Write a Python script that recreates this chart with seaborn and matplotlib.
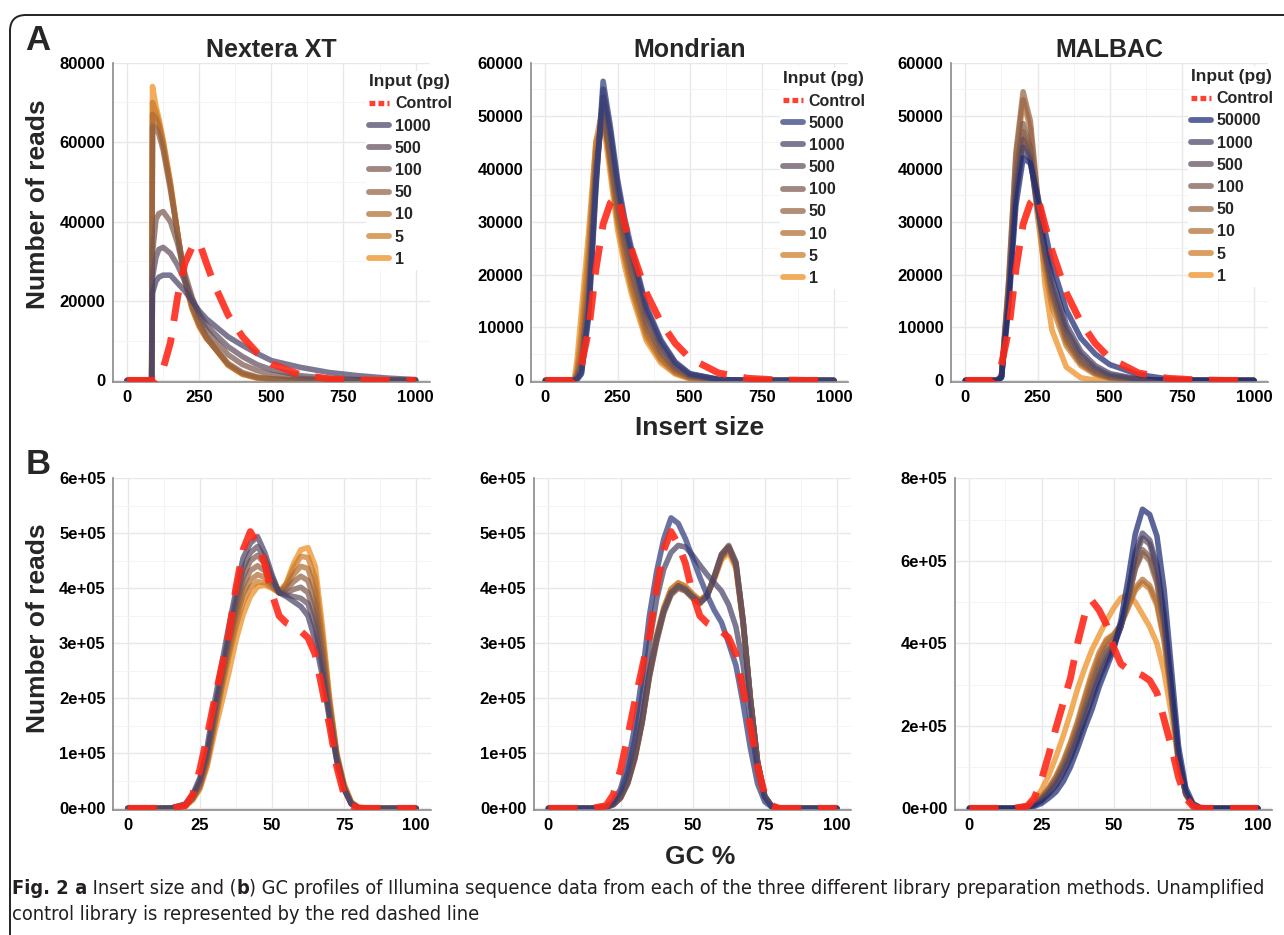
import pandas as pd
import seaborn as sns
import matplotlib.pyplot as plt
from matplotlib.lines import Line2D
from matplotlib.patches import FancyBboxPatch
from matplotlib.ticker import MultipleLocator, FuncFormatter
from matplotlib import font_manager

sns.set_style("white")
plt.rcParams["font.family"] = ["Liberation Sans", "DejaVu Sans"]
plt.rcParams["font.weight"] = "bold"

# ---------------- data: insert size (panel A) ----------------
xs_ins = [0, 85, 88, 100, 110, 125, 150, 175, 200, 225, 250, 275, 300, 350, 400, 450, 500, 600, 700, 800, 900, 1000]
ctrl_ins = [0, 0, 0, 0, 800, 3000, 9500, 21000, 29500, 33500, 34800, 29500, 24500, 16500, 11000, 7000, 4200, 1400, 400, 100, 0, 0]

labels_nx = ["1000", "500", "100", "50", "10", "5", "1"]
nx_1000 = [0, 0, 22000, 25000, 26000, 26500, 26500, 24500, 22500, 20000, 17500, 15500, 14000, 11000, 8800, 6800, 5000, 3300, 2000, 1200, 600, 200]
nx_500 = [0, 0, 26000, 31000, 33000, 33500, 32000, 29000, 25000, 20500, 16800, 14000, 12000, 8500, 6000, 4000, 2700, 1200, 500, 200, 80, 0]
nx_100 = [0, 0, 32000, 40500, 42000, 42500, 40000, 34500, 27000, 21000, 16200, 12800, 10500, 6500, 4000, 2500, 1500, 500, 150, 50, 0, 0]
nx_50 = [0, 0, 64000, 63500, 62000, 58000, 48000, 37000, 26000, 19000, 14500, 11000, 8500, 4300, 2000, 900, 400, 100, 0, 0, 0, 0]
nx_10 = [0, 0, 67000, 66000, 64000, 59000, 49000, 37000, 25500, 18500, 14000, 10800, 8500, 4000, 1700, 700, 300, 50, 0, 0, 0, 0]
nx_5 = [0, 0, 70000, 67500, 65000, 60000, 49500, 37000, 25000, 18200, 13700, 10600, 8500, 3900, 1600, 650, 250, 50, 0, 0, 0, 0]
nx_1 = [0, 0, 74000, 69000, 66000, 60500, 50000, 37000, 25000, 18000, 13500, 10500, 8500, 3800, 1500, 600, 200, 0, 0, 0, 0, 0]

labels_md = ["5000", "1000", "500", "100", "50", "10", "5", "1"]
md_5000 = [0, 0, 0, 0, 200, 1200, 12000, 36000, 56500, 48000, 38000, 30500, 24500, 14000, 7700, 3500, 1300, 200, 0, 0, 0, 0]
md_1000 = [0, 0, 0, 0, 300, 1500, 13000, 37000, 55000, 47000, 37000, 29500, 23800, 13500, 7300, 3300, 1200, 200, 0, 0, 0, 0]
md_500 = [0, 0, 0, 0, 400, 2000, 14000, 38000, 53500, 46000, 36000, 28500, 22500, 12500, 6500, 2800, 1000, 150, 0, 0, 0, 0]
md_100 = [0, 0, 0, 0, 600, 3000, 16000, 40000, 51000, 43000, 33500, 26500, 20500, 11000, 5500, 2300, 800, 100, 0, 0, 0, 0]
md_50 = [0, 0, 0, 0, 800, 4000, 18000, 41000, 50000, 42000, 32500, 25500, 19500, 10000, 5000, 2000, 700, 100, 0, 0, 0, 0]
md_10 = [0, 0, 0, 0, 1200, 6000, 21000, 43000, 50500, 41000, 31000, 24000, 18000, 9000, 4200, 1600, 500, 50, 0, 0, 0, 0]
md_5 = [0, 0, 0, 0, 2000, 9000, 25000, 45000, 52000, 40500, 30000, 23000, 17000, 8200, 3800, 1400, 400, 0, 0, 0, 0, 0]
md_1 = [0, 0, 0, 0, 4000, 13000, 28000, 45000, 49000, 39000, 28500, 21500, 16000, 7500, 3300, 1200, 300, 0, 0, 0, 0, 0]

labels_mb = ["50000", "1000", "500", "100", "50", "10", "5", "1"]
mb_50000 = [0, 0, 0, 0, 0, 500, 14000, 33000, 42000, 41000, 35000, 28500, 22000, 13300, 8000, 5000, 3000, 1100, 300, 50, 0, 0]
mb_1000 = [0, 0, 0, 0, 0, 600, 15000, 35000, 44000, 41500, 33000, 25500, 19500, 10500, 5500, 2800, 1300, 250, 0, 0, 0, 0]
mb_500 = [0, 0, 0, 0, 0, 700, 16000, 36500, 45500, 42000, 32500, 24500, 18000, 9500, 4800, 2300, 1000, 200, 0, 0, 0, 0]
mb_100 = [0, 0, 0, 0, 0, 800, 17000, 39000, 48500, 44000, 33000, 24000, 17000, 8500, 4000, 1800, 700, 100, 0, 0, 0, 0]
mb_50 = [0, 0, 0, 0, 0, 900, 19000, 43000, 54500, 49000, 35000, 24000, 16500, 7800, 3500, 1500, 600, 100, 0, 0, 0, 0]
mb_10 = [0, 0, 0, 0, 0, 900, 18500, 42000, 53000, 47500, 34000, 23000, 15500, 7200, 3200, 1300, 500, 50, 0, 0, 0, 0]
mb_5 = [0, 0, 0, 0, 0, 800, 17500, 38000, 47000, 43000, 31000, 21000, 14000, 6500, 2800, 1100, 400, 0, 0, 0, 0, 0]
mb_1 = [0, 0, 0, 0, 0, 700, 16500, 36500, 45500, 44000, 35000, 18500, 9500, 2500, 500, 50, 0, 0, 0, 0, 0, 0]

# ---------------- data: GC % (panel B) ----------------
xs_gc = [0, 10, 15, 20, 22.5, 25, 27.5, 30, 32.5, 35, 37.5, 40, 42.5, 45, 47.5, 50, 52.5, 55, 57.5, 60,
         62.5, 65, 67.5, 70, 72.5, 75, 77.5, 80, 85, 90, 100]
ctrl_gc = [0, 0, 0, 5000, 25000, 70000, 130000, 195000, 255000, 315000, 400000, 470000, 503000, 480000, 445000, 390000,
           350000, 337000, 330000, 322000, 310000, 280000, 215000, 150000, 75000, 25000, 5000, 0, 0, 0, 0]

nb_1000 = [0, 0, 500, 8000, 25000, 55000, 110000, 190000, 260000, 330000, 395000, 455000, 482000, 494000, 465000, 425000,
           392000, 385000, 376000, 367000, 350000, 305000, 240000, 160000, 85000, 35000, 8000, 1000, 0, 0, 0]
nb_500 = [0, 0, 400, 7000, 22000, 50000, 100000, 175000, 245000, 315000, 380000, 435000, 465000, 476000, 455000, 420000,
          392000, 388000, 385000, 382000, 372000, 330000, 255000, 165000, 87000, 35000, 8000, 1000, 0, 0, 0]
nb_100 = [0, 0, 300, 6000, 20000, 46000, 95000, 168000, 238000, 305000, 368000, 420000, 450000, 460000, 445000, 415000,
          392000, 392000, 398000, 402000, 392000, 350000, 270000, 172000, 90000, 36000, 8000, 1000, 0, 0, 0]
nb_50 = [0, 0, 300, 5500, 19000, 43000, 90000, 160000, 230000, 295000, 355000, 405000, 432000, 441000, 432000, 410000,
         392000, 398000, 412000, 422000, 414000, 372000, 285000, 180000, 93000, 38000, 9000, 1000, 0, 0, 0]
nb_10 = [0, 0, 200, 5000, 17000, 40000, 85000, 153000, 222000, 285000, 342000, 390000, 415000, 425000, 420000, 405000,
         392000, 404000, 425000, 440000, 436000, 395000, 300000, 188000, 96000, 40000, 10000, 1500, 0, 0, 0]
nb_5 = [0, 0, 200, 4500, 16000, 37000, 80000, 147000, 215000, 275000, 330000, 375000, 402000, 412000, 410000, 402000,
        392000, 408000, 437000, 458000, 456000, 418000, 315000, 195000, 98000, 42000, 11000, 1500, 0, 0, 0]
nb_1 = [0, 0, 0, 4000, 15000, 35000, 75000, 135000, 190000, 245000, 305000, 352000, 385000, 403000, 406000, 400000,
        392000, 410000, 445000, 470000, 474000, 440000, 330000, 200000, 100000, 45000, 12000, 2000, 0, 0, 0]

mdb_5000 = [0, 0, 0, 3000, 12000, 35000, 80000, 150000, 240000, 350000, 430000, 490000, 528000, 518000, 490000, 455000,
            420000, 388000, 360000, 338000, 300000, 260000, 190000, 110000, 45000, 12000, 2000, 0, 0, 0, 0]
mdb_1000 = [0, 0, 0, 2000, 9000, 28000, 65000, 125000, 205000, 300000, 380000, 435000, 465000, 478000, 475000, 460000,
            442000, 425000, 410000, 395000, 370000, 330000, 260000, 160000, 70000, 20000, 3000, 0, 0, 0, 0]
mdb_500 = [0, 0, 0, 2000, 7000, 20000, 48000, 95000, 160000, 245000, 310000, 360000, 392000, 405000, 398000, 385000,
           375000, 385000, 420000, 460000, 475000, 445000, 340000, 200000, 85000, 22000, 3000, 0, 0, 0, 0]
mdb_100 = [0, 0, 0, 2000, 7000, 19000, 46000, 92000, 157000, 240000, 305000, 357000, 390000, 402000, 396000, 383000,
           373000, 386000, 422000, 462000, 478000, 448000, 342000, 202000, 86000, 22000, 3000, 0, 0, 0, 0]
mdb_50 = [0, 0, 0, 2000, 6500, 18500, 45000, 90000, 155000, 238000, 302000, 355000, 388000, 400000, 395000, 382000,
          372000, 386000, 422000, 462000, 476000, 446000, 340000, 200000, 85000, 22000, 3000, 0, 0, 0, 0]
mdb_10 = [0, 0, 0, 2000, 7000, 20000, 47000, 93000, 158000, 242000, 308000, 360000, 393000, 405000, 399000, 386000,
          376000, 388000, 420000, 458000, 472000, 442000, 338000, 199000, 84000, 22000, 3000, 0, 0, 0, 0]
mdb_5 = [0, 0, 0, 2200, 7500, 21000, 49000, 96000, 162000, 247000, 313000, 364000, 398000, 410000, 403000, 389000,
         378000, 388000, 418000, 455000, 470000, 440000, 336000, 198000, 84000, 22000, 3000, 0, 0, 0, 0]
mdb_1 = [0, 0, 0, 2200, 7500, 21000, 49000, 96000, 163000, 248000, 314000, 365000, 399000, 410000, 404000, 390000,
         379000, 389000, 416000, 452000, 465000, 436000, 334000, 197000, 83000, 22000, 3000, 0, 0, 0, 0]

mbb_50000 = [0, 0, 0, 2000, 5000, 12000, 25000, 40000, 65000, 100000, 145000, 195000, 240000, 295000, 340000, 385000,
             455000, 555000, 665000, 725000, 712000, 660000, 530000, 340000, 150000, 50000, 12000, 2000, 0, 0, 0]
mbb_1000 = [0, 0, 0, 3000, 8000, 18000, 35000, 55000, 85000, 120000, 165000, 215000, 265000, 315000, 355000, 390000,
            440000, 520000, 620000, 667000, 650000, 590000, 470000, 300000, 130000, 40000, 9000, 1000, 0, 0, 0]
mbb_500 = [0, 0, 0, 3000, 9000, 20000, 38000, 60000, 90000, 128000, 175000, 225000, 275000, 325000, 365000, 395000,
           440000, 515000, 610000, 655000, 640000, 580000, 460000, 290000, 125000, 38000, 8000, 1000, 0, 0, 0]
mbb_100 = [0, 0, 0, 4000, 10000, 22000, 42000, 66000, 98000, 138000, 185000, 238000, 290000, 340000, 378000, 400000,
           440000, 505000, 585000, 627000, 610000, 555000, 445000, 285000, 120000, 36000, 8000, 1000, 0, 0, 0]
mbb_50 = [0, 0, 0, 4000, 11000, 24000, 45000, 70000, 104000, 145000, 195000, 250000, 305000, 355000, 390000, 410000,
          445000, 505000, 580000, 619000, 600000, 545000, 440000, 280000, 118000, 35000, 7000, 1000, 0, 0, 0]
mbb_10 = [0, 0, 0, 5000, 12000, 26000, 48000, 75000, 110000, 155000, 205000, 265000, 320000, 370000, 405000, 420000,
          445000, 490000, 535000, 555000, 540000, 500000, 410000, 270000, 115000, 34000, 7000, 1000, 0, 0, 0]
mbb_5 = [0, 0, 0, 5000, 13000, 28000, 50000, 78000, 115000, 160000, 212000, 272000, 330000, 378000, 410000, 422000,
         445000, 485000, 528000, 547000, 532000, 492000, 405000, 268000, 113000, 33000, 7000, 1000, 0, 0, 0]
mbb_1 = [0, 0, 0, 7000, 20000, 45000, 80000, 125000, 175000, 230000, 290000, 340000, 385000, 420000, 455000, 485000,
         510000, 518000, 500000, 470000, 440000, 400000, 330000, 230000, 110000, 35000, 8000, 1000, 0, 0, 0]

titles = ["Nextera XT", "Mondrian", "MALBAC"]

pal = {"50000": "#1d2a72", "5000": "#313d7c", "1000": "#4b4468", "500": "#634f5f", "100": "#7b5a4f",
       "50": "#946243", "10": "#b06c33", "5": "#cc7a27", "1": "#ec8c1e"}
ctrl_color = "#ff2a1a"

W, H = 1284, 935
fig = plt.figure(figsize=(W / 100, H / 100), dpi=100)


def box(left, right, top, bottom):
    return [left / W, 1 - bottom / H, (right - left) / W, (bottom - top) / H]


def draw_panel(ax, xs, ctrl, labels, series, xlim, xstep, ymax, ystep, fmt):
    long = pd.concat([pd.DataFrame({"x": xs, "reads": ys, "input": lab})
                      for lab, ys in zip(labels, series)], ignore_index=True)
    sns.lineplot(data=long, x="x", y="reads", hue="input", hue_order=labels[::-1], palette=pal,
                 estimator=None, sort=False, linewidth=4.0, alpha=0.72, legend=False, ax=ax)
    sns.lineplot(x=xs, y=ctrl, color=ctrl_color, linewidth=5.0, alpha=0.9,
                 estimator=None, sort=False, legend=False, ax=ax)
    ax.lines[-1].set_linestyle((0, (4.2, 2.4)))
    ax.lines[-1].set_zorder(4)

    ax.set_xlim(*xlim)
    ax.set_ylim(-ymax * 0.005, ymax)
    ax.xaxis.set_major_locator(MultipleLocator(xstep))
    ax.xaxis.set_minor_locator(MultipleLocator(xstep / 2))
    ax.yaxis.set_major_locator(MultipleLocator(ystep))
    ax.yaxis.set_minor_locator(MultipleLocator(ystep / 2))
    ax.yaxis.set_major_formatter(FuncFormatter(fmt))
    ax.grid(which="major", color="#e8e8e8", lw=1.0)
    ax.grid(which="minor", color="#f4f4f4", lw=0.7)
    ax.set_axisbelow(True)
    for s in ["top", "right"]:
        ax.spines[s].set_visible(False)
    for s in ["left", "bottom"]:
        ax.spines[s].set_color("#8a8a8a")
        ax.spines[s].set_linewidth(1.2)
    ax.tick_params(which="major", length=3.5, color="#8a8a8a", labelsize=12, pad=2, labelcolor="black")
    ax.tick_params(which="minor", length=0)
    ax.set_xlabel("")
    ax.set_ylabel("")


fmt_int = lambda v, p: f"{int(round(v))}"
fmt_sci = lambda v, p: f"{v:.0e}"

# ----- row A -----
axA = [fig.add_axes(box(112.7, 430, 62.7, 382)),
       fig.add_axes(box(531, 848.3, 62.7, 382)),
       fig.add_axes(box(951, 1268.3, 62.7, 382))]
draw_panel(axA[0], xs_ins, ctrl_ins, labels_nx, [nx_1000, nx_500, nx_100, nx_50, nx_10, nx_5, nx_1],
           (-50, 1050), 250, 80000, 20000, fmt_int)
draw_panel(axA[1], xs_ins, ctrl_ins, labels_md, [md_5000, md_1000, md_500, md_100, md_50, md_10, md_5, md_1],
           (-50, 1050), 250, 60000, 10000, fmt_int)
draw_panel(axA[2], xs_ins, ctrl_ins, labels_mb, [mb_50000, mb_1000, mb_500, mb_100, mb_50, mb_10, mb_5, mb_1],
           (-50, 1050), 250, 60000, 10000, fmt_int)

leg_pos = [(0.799, 0.974), (0.784, 0.983), (0.747, 0.99)]
for ax, labels, pos, title in zip(axA, [labels_nx, labels_md, labels_mb], leg_pos, titles):
    handles = [Line2D([0], [0], color=ctrl_color, lw=3.8, alpha=0.9, ls=(0, (1.1, 0.6)))]
    handles += [Line2D([0], [0], color=pal[l], lw=4.2, alpha=0.72) for l in labels]
    ax.legend(handles, ["Control"] + labels, title="Input (pg)", loc="upper left", bbox_to_anchor=pos,
              frameon=True, facecolor="white", edgecolor="none", framealpha=1, fontsize=11.5,
              title_fontsize=12.5, labelspacing=0.45, handlelength=1.25, handletextpad=0.35,
              borderpad=0.2, borderaxespad=0, alignment="left")
    fig.text((ax.get_position().x0 + ax.get_position().x1) / 2, 1 - 50 / H, title,
             fontsize=18, ha="center", va="center")

# ----- row B -----
axB = [fig.add_axes(box(113.3, 430.6, 478.3, 810)),
       fig.add_axes(box(534, 851.3, 478.3, 810)),
       fig.add_axes(box(955, 1272.3, 478.3, 810))]
draw_panel(axB[0], xs_gc, ctrl_gc, labels_nx, [nb_1000, nb_500, nb_100, nb_50, nb_10, nb_5, nb_1],
           (-5, 105), 25, 600000, 100000, fmt_sci)
draw_panel(axB[1], xs_gc, ctrl_gc, labels_md, [mdb_5000, mdb_1000, mdb_500, mdb_100, mdb_50, mdb_10, mdb_5, mdb_1],
           (-5, 105), 25, 600000, 100000, fmt_sci)
draw_panel(axB[2], xs_gc, ctrl_gc, labels_mb, [mbb_50000, mbb_1000, mbb_500, mbb_100, mbb_50, mbb_10, mbb_5, mbb_1],
           (-5, 105), 25, 800000, 200000, fmt_sci)

# ----- labels -----
fig.text(38 / W, 1 - 40 / H, "A", fontsize=25, ha="center", va="center")
fig.text(38 / W, 1 - 465 / H, "B", fontsize=25, ha="center", va="center")
fig.text(38 / W, 1 - 204 / H, "Number of reads", fontsize=19, rotation=90, ha="center", va="center")
fig.text(38 / W, 1 - 628 / H, "Number of reads", fontsize=19, rotation=90, ha="center", va="center")
fig.text(700 / W, 1 - 428 / H, "Insert size", fontsize=19, ha="center", va="center")
fig.text(700 / W, 1 - 857 / H, "GC %", fontsize=19, ha="center", va="center")

# ----- caption -----
ttf = font_manager.fontManager.ttflist
names = {f.name for f in ttf}
cap_stretch = "normal"
if "Liberation Sans Narrow" in names:
    cap_family = "Liberation Sans Narrow"
elif any(f.name == "DejaVu Sans" and f.stretch == "condensed" for f in ttf):
    cap_family, cap_stretch = "DejaVu Sans", "condensed"
else:
    cap_family = "Open Sans"
renderer = fig.canvas.get_renderer()

line1 = [("Fig. 2", "bold"), (" a", "bold"), (" Insert size and (", "normal"), ("b", "bold"),
         (") GC profiles of Illumina sequence data from each of the three different library preparation "
          "methods. Unamplified", "normal")]
line2 = [("control library is represented by the red dashed line", "normal")]


def caption_line(segments, x0, y0, size):
    x = x0
    objs = []
    for txt, wt in segments:
        t = fig.text(x / W, 1 - y0 / H, txt, fontsize=size, fontweight=wt, family=cap_family,
                     fontstretch=cap_stretch, color="#231f20", ha="left", va="center")
        x += t.get_window_extent(renderer=renderer).width
        objs.append(t)
    return objs, x - x0


trial, width = caption_line(line1, 12, 888, 12)
for t in trial:
    t.remove()
cap_size = 12 * 1250 / width
caption_line(line1, 12, 888, cap_size)
caption_line(line2, 12, 914, cap_size)

# ----- outer rounded frame -----
frame = FancyBboxPatch((0.10, -0.5), 13.5, 9.7, boxstyle="round,pad=0,rounding_size=0.16",
                       transform=fig.dpi_scale_trans, fill=False, edgecolor="#222222", lw=1.4)
fig.patches.append(frame)

fig.savefig("out.png", dpi=100)
